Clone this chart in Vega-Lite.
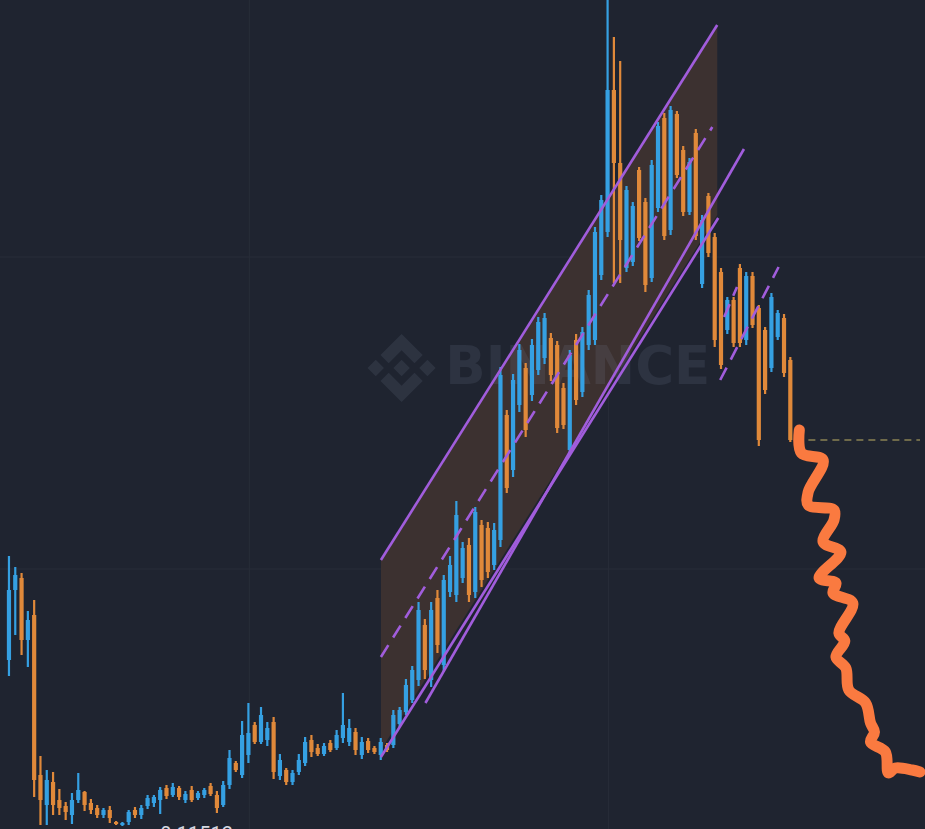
{
"$schema":"https://vega.github.io/schema/vega-lite/v6.json",
"width":925,"height":829,"padding":0,
"autosize":"none",
"background":"#1f2430",
"config":{"view":{"stroke":null}},
"datasets":{
"candles":[
{"t":0,"o":0.13172,"h":0.14212,"l":0.13012,"c":0.13872},
{"t":1,"o":0.13872,"h":0.14102,"l":0.13422,"c":0.14022},
{"t":2,"o":0.13992,"h":0.14042,"l":0.13222,"c":0.13372},
{"t":3,"o":0.13372,"h":0.13662,"l":0.13102,"c":0.13572},
{"t":4,"o":0.13622,"h":0.13772,"l":0.11802,"c":0.11972},
{"t":5,"o":0.12022,"h":0.12212,"l":0.11522,"c":0.11772},
{"t":6,"o":0.11722,"h":0.12072,"l":0.11522,"c":0.11972},
{"t":7,"o":0.11952,"h":0.12052,"l":0.11622,"c":0.11722},
{"t":8,"o":0.11772,"h":0.11882,"l":0.11622,"c":0.11692},
{"t":9,"o":0.11712,"h":0.11752,"l":0.11572,"c":0.11652},
{"t":10,"o":0.11622,"h":0.11842,"l":0.11532,"c":0.11772},
{"t":11,"o":0.11772,"h":0.12042,"l":0.11742,"c":0.11872},
{"t":12,"o":0.11852,"h":0.11862,"l":0.11662,"c":0.11722},
{"t":13,"o":0.11742,"h":0.11782,"l":0.11632,"c":0.11672},
{"t":14,"o":0.11692,"h":0.11722,"l":0.11592,"c":0.11622},
{"t":15,"o":0.11622,"h":0.11692,"l":0.11592,"c":0.11672},
{"t":16,"o":0.11672,"h":0.11712,"l":0.11542,"c":0.11592},
{"t":17,"o":0.11552,"h":0.11562,"l":0.11522,"c":0.11532},
{"t":18,"o":0.11522,"h":0.11552,"l":0.11512,"c":0.11542},
{"t":19,"o":0.11552,"h":0.11672,"l":0.11522,"c":0.11652},
{"t":20,"o":0.11672,"h":0.11702,"l":0.11592,"c":0.11622},
{"t":21,"o":0.11622,"h":0.11722,"l":0.11582,"c":0.11692},
{"t":22,"o":0.11712,"h":0.11822,"l":0.11682,"c":0.11792},
{"t":23,"o":0.11742,"h":0.11822,"l":0.11702,"c":0.11802},
{"t":24,"o":0.11772,"h":0.11902,"l":0.11632,"c":0.11872},
{"t":25,"o":0.11892,"h":0.11922,"l":0.11782,"c":0.11812},
{"t":26,"o":0.11822,"h":0.11942,"l":0.11802,"c":0.11902},
{"t":27,"o":0.11892,"h":0.11912,"l":0.11772,"c":0.11802},
{"t":28,"o":0.11772,"h":0.11862,"l":0.11742,"c":0.11832},
{"t":29,"o":0.11872,"h":0.11912,"l":0.11752,"c":0.11772},
{"t":30,"o":0.11792,"h":0.11862,"l":0.11772,"c":0.11842},
{"t":31,"o":0.11822,"h":0.11892,"l":0.11792,"c":0.11872},
{"t":32,"o":0.11912,"h":0.11942,"l":0.11812,"c":0.11832},
{"t":33,"o":0.11822,"h":0.11862,"l":0.11642,"c":0.11692},
{"t":34,"o":0.11722,"h":0.11962,"l":0.11702,"c":0.11922},
{"t":35,"o":0.11922,"h":0.12272,"l":0.11882,"c":0.12192},
{"t":36,"o":0.12142,"h":0.12162,"l":0.12052,"c":0.12072},
{"t":37,"o":0.12022,"h":0.12562,"l":0.11992,"c":0.12422},
{"t":38,"o":0.12222,"h":0.12742,"l":0.12142,"c":0.12442},
{"t":39,"o":0.12522,"h":0.12552,"l":0.12332,"c":0.12352},
{"t":40,"o":0.12352,"h":0.12702,"l":0.12332,"c":0.12622},
{"t":41,"o":0.12372,"h":0.12552,"l":0.12312,"c":0.12492},
{"t":42,"o":0.12552,"h":0.12602,"l":0.11982,"c":0.12052},
{"t":43,"o":0.12012,"h":0.12232,"l":0.11972,"c":0.12172},
{"t":44,"o":0.12072,"h":0.12092,"l":0.11922,"c":0.11952},
{"t":45,"o":0.11952,"h":0.12072,"l":0.11922,"c":0.12042},
{"t":46,"o":0.12052,"h":0.12232,"l":0.12022,"c":0.12172},
{"t":47,"o":0.12142,"h":0.12402,"l":0.12112,"c":0.12352},
{"t":48,"o":0.12372,"h":0.12422,"l":0.12202,"c":0.12252},
{"t":49,"o":0.12292,"h":0.12332,"l":0.12212,"c":0.12232},
{"t":50,"o":0.12232,"h":0.12342,"l":0.12212,"c":0.12312},
{"t":51,"o":0.12342,"h":0.12372,"l":0.12252,"c":0.12272},
{"t":52,"o":0.12292,"h":0.12472,"l":0.12272,"c":0.12422},
{"t":53,"o":0.12392,"h":0.12842,"l":0.12342,"c":0.12522},
{"t":54,"o":0.12352,"h":0.12582,"l":0.12312,"c":0.12492},
{"t":55,"o":0.12452,"h":0.12492,"l":0.12222,"c":0.12272},
{"t":56,"o":0.12222,"h":0.12402,"l":0.12182,"c":0.12352},
{"t":57,"o":0.12362,"h":0.12392,"l":0.12242,"c":0.12272},
{"t":58,"o":0.12292,"h":0.12312,"l":0.12232,"c":0.12252},
{"t":59,"o":0.12222,"h":0.12392,"l":0.12172,"c":0.12352},
{"t":60,"o":0.12322,"h":0.12342,"l":0.12252,"c":0.12272},
{"t":61,"o":0.12322,"h":0.12672,"l":0.12292,"c":0.12622},
{"t":62,"o":0.12532,"h":0.12702,"l":0.12502,"c":0.12672},
{"t":63,"o":0.12652,"h":0.12982,"l":0.12622,"c":0.12922},
{"t":64,"o":0.12772,"h":0.13112,"l":0.12742,"c":0.13072},
{"t":65,"o":0.12972,"h":0.13752,"l":0.12912,"c":0.13672},
{"t":66,"o":0.13522,"h":0.13582,"l":0.12982,"c":0.13072},
{"t":67,"o":0.12972,"h":0.13752,"l":0.12902,"c":0.13672},
{"t":68,"o":0.13792,"h":0.13872,"l":0.13242,"c":0.13322},
{"t":69,"o":0.13122,"h":0.14022,"l":0.13052,"c":0.13972},
{"t":70,"o":0.13852,"h":0.14212,"l":0.13802,"c":0.14122},
{"t":71,"o":0.13822,"h":0.14762,"l":0.13752,"c":0.14622},
{"t":72,"o":0.13992,"h":0.14352,"l":0.13942,"c":0.14292},
{"t":73,"o":0.14322,"h":0.14392,"l":0.13752,"c":0.13822},
{"t":74,"o":0.13852,"h":0.14702,"l":0.13792,"c":0.14652},
{"t":75,"o":0.14522,"h":0.14572,"l":0.13902,"c":0.13972},
{"t":76,"o":0.14492,"h":0.14552,"l":0.13992,"c":0.14052},
{"t":77,"o":0.14122,"h":0.14542,"l":0.14072,"c":0.14472},
{"t":78,"o":0.14372,"h":0.16102,"l":0.14302,"c":0.16022},
{"t":79,"o":0.15622,"h":0.15672,"l":0.14842,"c":0.14892},
{"t":80,"o":0.15072,"h":0.16032,"l":0.15002,"c":0.15972},
{"t":81,"o":0.15722,"h":0.16332,"l":0.15652,"c":0.16272},
{"t":82,"o":0.16092,"h":0.16142,"l":0.15402,"c":0.15472},
{"t":83,"o":0.15822,"h":0.16382,"l":0.15762,"c":0.16322},
{"t":84,"o":0.16072,"h":0.16602,"l":0.16022,"c":0.16552},
{"t":85,"o":0.16192,"h":0.16642,"l":0.16132,"c":0.16592},
{"t":86,"o":0.16392,"h":0.16442,"l":0.15962,"c":0.16022},
{"t":87,"o":0.16322,"h":0.16362,"l":0.15442,"c":0.15492},
{"t":88,"o":0.15892,"h":0.15942,"l":0.15482,"c":0.15522},
{"t":89,"o":0.15272,"h":0.16272,"l":0.15222,"c":0.16222},
{"t":90,"o":0.16372,"h":0.16432,"l":0.15722,"c":0.15772},
{"t":91,"o":0.15852,"h":0.16502,"l":0.15802,"c":0.16452},
{"t":92,"o":0.16322,"h":0.16872,"l":0.16272,"c":0.16822},
{"t":93,"o":0.16372,"h":0.17502,"l":0.16322,"c":0.17452},
{"t":94,"o":0.17022,"h":0.17822,"l":0.16972,"c":0.17772},
{"t":95,"o":0.17452,"h":0.19772,"l":0.17402,"c":0.18872},
{"t":96,"o":0.18872,"h":0.19402,"l":0.16942,"c":0.18142},
{"t":97,"o":0.18142,"h":0.19162,"l":0.16942,"c":0.17372},
{"t":98,"o":0.17092,"h":0.17912,"l":0.17052,"c":0.17872},
{"t":99,"o":0.17152,"h":0.17752,"l":0.17112,"c":0.17712},
{"t":100,"o":0.18072,"h":0.18102,"l":0.17362,"c":0.17392},
{"t":101,"o":0.17752,"h":0.17792,"l":0.16852,"c":0.16922},
{"t":102,"o":0.16992,"h":0.18172,"l":0.16952,"c":0.18122},
{"t":103,"o":0.17692,"h":0.18552,"l":0.17652,"c":0.18512},
{"t":104,"o":0.18592,"h":0.18642,"l":0.17372,"c":0.17412},
{"t":105,"o":0.17472,"h":0.18712,"l":0.17422,"c":0.18672},
{"t":106,"o":0.18632,"h":0.18662,"l":0.17992,"c":0.18022},
{"t":107,"o":0.18272,"h":0.18312,"l":0.17612,"c":0.17652},
{"t":108,"o":0.17652,"h":0.18192,"l":0.17622,"c":0.18152},
{"t":109,"o":0.18442,"h":0.18482,"l":0.17372,"c":0.17412},
{"t":110,"o":0.16932,"h":0.17622,"l":0.16892,"c":0.17572},
{"t":111,"o":0.17812,"h":0.17842,"l":0.17202,"c":0.17242},
{"t":112,"o":0.17402,"h":0.17442,"l":0.16302,"c":0.16372},
{"t":113,"o":0.17052,"h":0.17092,"l":0.16082,"c":0.16122},
{"t":114,"o":0.16472,"h":0.16802,"l":0.16432,"c":0.16772},
{"t":115,"o":0.16772,"h":0.16802,"l":0.16302,"c":0.16342},
{"t":116,"o":0.17092,"h":0.17132,"l":0.16302,"c":0.16342},
{"t":117,"o":0.16372,"h":0.17052,"l":0.16322,"c":0.17012},
{"t":118,"o":0.17012,"h":0.17052,"l":0.16492,"c":0.16522},
{"t":119,"o":0.16692,"h":0.16722,"l":0.15312,"c":0.15372},
{"t":120,"o":0.16472,"h":0.16502,"l":0.15832,"c":0.15872},
{"t":121,"o":0.16092,"h":0.16842,"l":0.16052,"c":0.16802},
{"t":122,"o":0.16402,"h":0.16672,"l":0.16372,"c":0.16642},
{"t":123,"o":0.16592,"h":0.16632,"l":0.16002,"c":0.16042},
{"t":124,"o":0.16172,"h":0.16202,"l":0.15352,"c":0.15372}
]},
"layer":[
{"data":{"values":[{"t":38.15},{"t":95.13}]},
 "mark":{"type":"rule","color":"#282d38","strokeWidth":1},
 "encoding":{"x":{"field":"t","type":"quantitative","scale":{"domain":[-0.628,144.58],"nice":false,"zero":false},"axis":null}}},
{"data":{"values":[{"p":0.17202},{"p":0.14082}]},
 "mark":{"type":"rule","color":"#282d38","strokeWidth":1},
 "encoding":{"y":{"field":"p","type":"quantitative","scale":{"domain":[0.11482,0.19772],"nice":false,"zero":false},"axis":null}}},
{"data":{"values":[{"t":59.03,"p":0.14172,"p2":0.12272},{"t":112.40,"p":0.19522,"p2":0.17622}]},
 "mark":{"type":"area","color":"#3c3130","opacity":1},
 "encoding":{
  "x":{"field":"t","type":"quantitative","scale":{"domain":[-0.628,144.58],"nice":false,"zero":false},"axis":null},
  "y":{"field":"p","type":"quantitative","scale":{"domain":[0.11482,0.19772],"nice":false,"zero":false},"axis":null},
  "y2":{"field":"p2"}}},
{"data":{"values":[{"t":62.31,"p":0.16092}]},
 "mark":{"type":"point","filled":true,"size":4624,"color":"#8a97b0","opacity":0.13,"strokeWidth":0,
  "shape":"M0,-1L0.62,-0.38L0.38,-0.14L0,-0.52L-0.38,-0.14L-0.62,-0.38ZM0,1L0.62,0.38L0.38,0.14L0,0.52L-0.38,0.14L-0.62,0.38ZM0,-0.24L0.24,0L0,0.24L-0.24,0ZM-0.76,-0.24L-0.52,0L-0.76,0.24L-1,0ZM0.76,-0.24L1,0L0.76,0.24L0.52,0Z"},
 "encoding":{
  "x":{"field":"t","type":"quantitative","scale":{"domain":[-0.628,144.58],"nice":false,"zero":false},"axis":null},
  "y":{"field":"p","type":"quantitative","scale":{"domain":[0.11482,0.19772],"nice":false,"zero":false},"axis":null}}},
{"data":{"values":[{"t":90.27,"p":0.16092,"txt":"BINANCE"}]},
 "mark":{"type":"text","font":"DejaVu Sans","fontWeight":"bold","fontSize":53,"color":"#8a97b0","opacity":0.13,"align":"center","baseline":"middle"},
 "encoding":{
  "x":{"field":"t","type":"quantitative","scale":{"domain":[-0.628,144.58],"nice":false,"zero":false},"axis":null},
  "y":{"field":"p","type":"quantitative","scale":{"domain":[0.11482,0.19772],"nice":false,"zero":false},"axis":null},
  "text":{"field":"txt"}}},
{"data":{"name":"candles"},
 "mark":{"type":"rule","strokeWidth":2.2},
 "encoding":{
  "x":{"field":"t","type":"quantitative","scale":{"domain":[-0.628,144.58],"nice":false,"zero":false},"axis":null},
  "y":{"field":"h","type":"quantitative","scale":{"domain":[0.11482,0.19772],"nice":false,"zero":false},"axis":null},
  "y2":{"field":"l"},
  "color":{"condition":{"test":"datum.c > datum.o","value":"#35a0e2"},"value":"#e0893a"}}},
{"data":{"name":"candles"},
 "mark":{"type":"bar","size":4.2},
 "encoding":{
  "x":{"field":"t","type":"quantitative","scale":{"domain":[-0.628,144.58],"nice":false,"zero":false},"axis":null},
  "y":{"field":"o","type":"quantitative","scale":{"domain":[0.11482,0.19772],"nice":false,"zero":false},"axis":null},
  "y2":{"field":"c"},
  "color":{"condition":{"test":"datum.c > datum.o","value":"#35a0e2"},"value":"#e0893a"}}},
{"data":{"values":[
  {"id":"up","t":59.03,"p":0.14172},{"id":"up","t":112.40,"p":0.19522},
  {"id":"lo","t":59.03,"p":0.12202},{"id":"lo","t":112.56,"p":0.17592},
  {"id":"lo2","t":66.09,"p":0.12742},{"id":"lo2","t":116.64,"p":0.18282}]},
 "mark":{"type":"line","color":"#a15ddc","strokeWidth":2.6},
 "encoding":{
  "x":{"field":"t","type":"quantitative","scale":{"domain":[-0.628,144.58],"nice":false,"zero":false},"axis":null},
  "y":{"field":"p","type":"quantitative","scale":{"domain":[0.11482,0.19772],"nice":false,"zero":false},"axis":null},
  "detail":{"field":"id"}}},
{"data":{"values":[
  {"id":"mid","t":59.03,"p":0.13202},{"id":"mid","t":111.62,"p":0.18502},
  {"id":"r1","t":112.87,"p":0.15972},{"id":"r1","t":122.14,"p":0.17102},
  {"id":"r2","t":113.50,"p":0.16602},{"id":"r2","t":115.54,"p":0.16902}]},
 "mark":{"type":"line","color":"#a15ddc","strokeWidth":2.6,"strokeDash":[14,9]},
 "encoding":{
  "x":{"field":"t","type":"quantitative","scale":{"domain":[-0.628,144.58],"nice":false,"zero":false},"axis":null},
  "y":{"field":"p","type":"quantitative","scale":{"domain":[0.11482,0.19772],"nice":false,"zero":false},"axis":null},
  "detail":{"field":"id"}}},
{"data":{"values":[{"t":124.96,"p":0.15372},{"t":144.58,"p":0.15372}]},
 "mark":{"type":"line","color":"#6f6a4a","strokeWidth":2,"strokeDash":[7,5]},
 "encoding":{
  "x":{"field":"t","type":"quantitative","scale":{"domain":[-0.628,144.58],"nice":false,"zero":false},"axis":null},
  "y":{"field":"p","type":"quantitative","scale":{"domain":[0.11482,0.19772],"nice":false,"zero":false},"axis":null}}},
{"data":{"values":[
  {"k":1,"t":125.43,"p":0.15472},{"k":2,"t":125.75,"p":0.15242},{"k":3,"t":129.20,"p":0.15172},
  {"k":4,"t":126.84,"p":0.14852},{"k":5,"t":126.84,"p":0.14722},{"k":6,"t":130.93,"p":0.14672},
  {"k":7,"t":130.93,"p":0.14572},{"k":8,"t":129.20,"p":0.14352},{"k":9,"t":132.03,"p":0.14252},
  {"k":10,"t":128.57,"p":0.13992},{"k":11,"t":131.24,"p":0.13942},{"k":12,"t":130.77,"p":0.13842},
  {"k":13,"t":133.91,"p":0.13742},{"k":14,"t":131.71,"p":0.13442},{"k":15,"t":132.65,"p":0.13362},
  {"k":16,"t":131.24,"p":0.13202},{"k":17,"t":132.81,"p":0.13092},{"k":18,"t":133.28,"p":0.12872},
  {"k":19,"t":135.95,"p":0.12742},{"k":20,"t":136.73,"p":0.12542},{"k":21,"t":137.36,"p":0.12452},
  {"k":22,"t":136.73,"p":0.12352},{"k":23,"t":139.09,"p":0.12252},{"k":24,"t":139.56,"p":0.12042},
  {"k":25,"t":140.66,"p":0.12092},{"k":26,"t":143.33,"p":0.12072},{"k":27,"t":144.58,"p":0.12052}]},
 "mark":{"type":"line","color":"#fa7a40","strokeWidth":11,"strokeCap":"round","strokeJoin":"round","interpolate":"catmull-rom"},
 "encoding":{
  "x":{"field":"t","type":"quantitative","scale":{"domain":[-0.628,144.58],"nice":false,"zero":false},"axis":null},
  "y":{"field":"p","type":"quantitative","scale":{"domain":[0.11482,0.19772],"nice":false,"zero":false},"axis":null},
  "order":{"field":"k","type":"quantitative"}}},
{"data":{"values":[{"t":24.0,"p":0.11522,"txt":"0.11512"}]},
 "mark":{"type":"text","font":"Roboto","fontSize":20,"color":"#d4d8e0","align":"left","baseline":"top"},
 "encoding":{
  "x":{"field":"t","type":"quantitative","scale":{"domain":[-0.628,144.58],"nice":false,"zero":false},"axis":null},
  "y":{"field":"p","type":"quantitative","scale":{"domain":[0.11482,0.19772],"nice":false,"zero":false},"axis":null},
  "text":{"field":"txt"}}}
]
}
